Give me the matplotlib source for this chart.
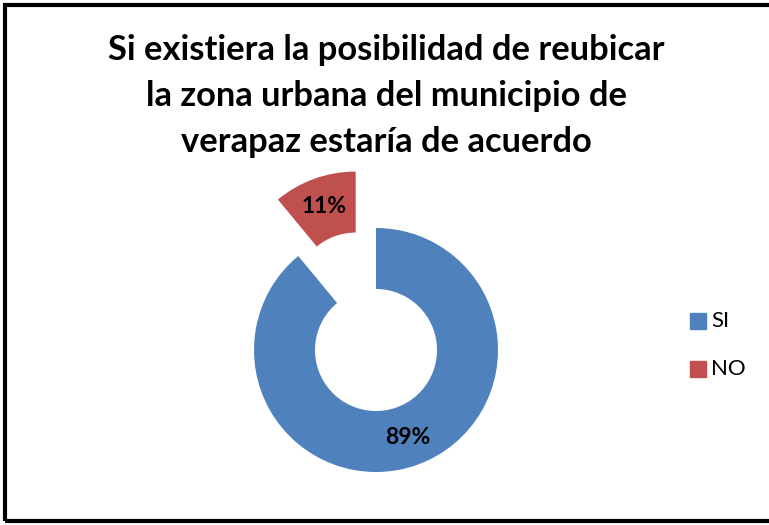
import matplotlib
matplotlib.use("Agg")
import matplotlib.pyplot as plt
from matplotlib.patches import Rectangle

# data
labels = ["SI", "NO"]
values = [89, 11]
colors = ["#4F81BD", "#C0504D"]
title = "Si existiera la posibilidad de reubicar\nla zona urbana del municipio de\nverapaz estaría de acuerdo"

W, H = 769, 525
fig = plt.figure(figsize=(W / 100, H / 100), dpi=100)
ax = fig.add_axes([0, 0, 1, 1])

# work in pixel units, y measured from the bottom
cx, cy, r = 376, H - 350, 122
wedges, texts, autotexts = ax.pie(
    values, colors=colors, startangle=90, counterclock=False,
    center=(cx, cy), radius=r, explode=[0, 60],
    wedgeprops=dict(width=r * 0.5, edgecolor="none"),
    autopct="%d%%", pctdistance=0.76,
    textprops=dict(fontsize=16.5, fontweight="bold", family="Lato", color="black"),
)

ax.set_xlim(0, W)
ax.set_ylim(0, H)
ax.set_aspect("auto")
ax.axis("off")

ax.text(386, H - 96, title, ha="center", va="center", fontsize=24.8,
        fontweight="bold", family="Lato", linespacing=1.55)

# legend
for i, (lab, col) in enumerate(zip(labels, colors)):
    y = H - (321 + i * 48)
    ax.add_patch(Rectangle((690, y - 8), 16, 16, color=col))
    ax.text(711, y, lab, ha="left", va="center", fontsize=16, family="Lato")

# outer frame, right side runs off the picture
ax.add_patch(Rectangle((5, 4), 800, 516.5, fill=False, lw=3, ec="black", clip_on=False))

fig.savefig("out.png", dpi=100)
